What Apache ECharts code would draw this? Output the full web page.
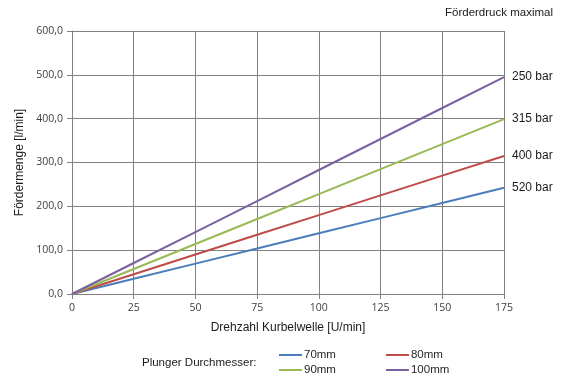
<!DOCTYPE html>
<html>
<head>
<meta charset="utf-8">
<script src="https://cdn.jsdelivr.net/npm/echarts@6/dist/echarts.min.js"></script>
<style>html,body{margin:0;padding:0;background:#fff}#c{width:568px;height:376px}</style>
</head>
<body>
<div id="c"></div>
<script>
var rpm = [0, 25, 50, 75, 100, 125, 150, 175];
var seriesNames = ['70mm', '80mm', '90mm', '100mm'];
var flow70 = [0, 34.6, 69.3, 103.9, 138.5, 173.1, 207.8, 242.4];
var flow80 = [0, 45.0, 90.0, 135.0, 180.0, 225.0, 270.0, 315.0];
var flow90 = [0, 57.0, 114.0, 171.0, 228.0, 285.0, 342.0, 399.0];
var flow100 = [0, 70.7, 141.4, 212.1, 282.9, 353.6, 424.3, 495.0];
var pressures = ['520 bar', '400 bar', '315 bar', '250 bar'];
var colors = ['#4A7EBB', '#BE4B48', '#98B954', '#7D60A0'];
var allFlows = [flow70, flow80, flow90, flow100];

var sansFont = '"Liberation Sans", Arial, sans-serif';
var tickFont = '"Open Sans", "DejaVu Sans", sans-serif';

var series = seriesNames.map(function (name, i) {
  return {
    name: name,
    type: 'line',
    showSymbol: false,
    symbol: 'none',
    lineStyle: { width: 2, color: colors[i] },
    itemStyle: { color: colors[i] },
    data: rpm.map(function (x, k) { return [x, allFlows[i][k]]; }),
    endLabel: {
      show: true,
      distance: 8,
      formatter: pressures[i],
      fontFamily: sansFont,
      fontSize: 12,
      color: '#1a1a1a'
    },
    animation: false
  };
});

function legendAt(top, names) {
  return {
    top: top,
    left: 279,
    padding: 0,
    orient: 'horizontal',
    icon: 'rect',
    itemWidth: 23,
    itemHeight: 2,
    itemGap: 50,
    data: names,
    textStyle: { fontFamily: sansFont, fontSize: 11.5, color: '#262626', padding: [0, 0, 0, -3] }
  };
}

var chart = echarts.init(document.getElementById('c'), null, { renderer: 'canvas' });
chart.setOption({
  animation: false,
  title: [
    { text: 'Förderdruck maximal', right: 15, top: 7, padding: 0, textStyle: { fontFamily: sansFont, fontSize: 11.5, fontWeight: 'normal', color: '#1a1a1a' } },
    { text: 'Plunger Durchmesser:', left: 142, top: 357, padding: 0, textStyle: { fontFamily: sansFont, fontSize: 11.5, fontWeight: 'normal', color: '#1a1a1a' } }
  ],
  legend: [
    legendAt(349, [seriesNames[0], seriesNames[1]]),
    legendAt(364, [seriesNames[2], seriesNames[3]])
  ],
  grid: { left: 72, right: 64, top: 31, bottom: 82 },
  xAxis: {
    type: 'value',
    min: 0, max: 175, interval: 25,
    name: 'Drehzahl Kurbelwelle [U/min]',
    nameLocation: 'middle',
    nameGap: 28,
    nameTextStyle: { fontFamily: sansFont, fontSize: 12, color: '#1a1a1a' },
    axisLine: { show: true, lineStyle: { color: '#808080', width: 1 } },
    axisTick: { show: true, length: 5, inside: false, lineStyle: { color: '#808080' } },
    axisLabel: { margin: 9, fontFamily: tickFont, fontSize: 10.5, color: '#404040' },
    splitLine: { show: true, lineStyle: { color: '#808080', width: 1 } }
  },
  yAxis: {
    type: 'value',
    min: 0, max: 600, interval: 100,
    name: 'Fördermenge [l/min]',
    nameLocation: 'middle',
    nameGap: 46,
    nameRotate: 90,
    nameTextStyle: { fontFamily: sansFont, fontSize: 12, color: '#1a1a1a' },
    axisLine: { show: true, lineStyle: { color: '#808080', width: 1 } },
    axisTick: { show: true, length: 5, inside: false, lineStyle: { color: '#808080' } },
    axisLabel: {
      margin: 9, fontFamily: tickFont, fontSize: 10.5, color: '#404040',
      formatter: function (v) { return v.toFixed(1).replace('.', ','); }
    },
    splitLine: { show: true, lineStyle: { color: '#808080', width: 1 } }
  },
  series: series
});
</script>
</body>
</html>
